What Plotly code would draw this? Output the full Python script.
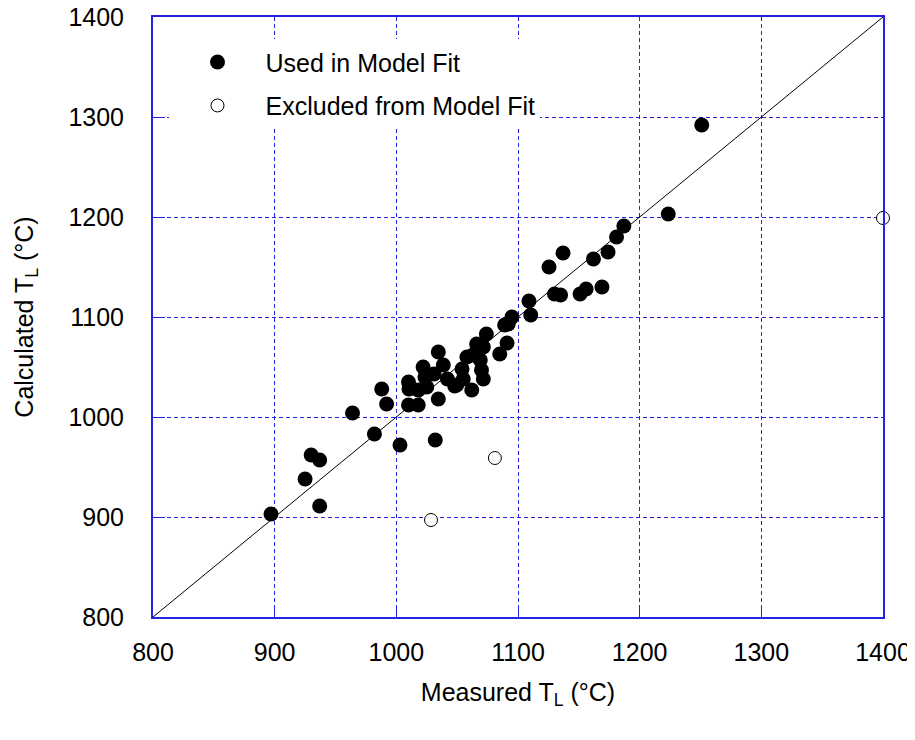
import plotly.graph_objects as go

# Used in Model Fit: measured (x) vs calculated (y), degrees C
used_measured = [897, 937, 925, 930, 937, 964, 982, 988, 992, 1003,
                 1034.5, 1022, 1038.6, 1010, 1010.4, 1023.5, 1025, 1018, 1031, 1042,
                 1049.6, 1034.5, 1010, 1018, 1032, 1109, 1110.5, 1095, 1092, 1089,
                 1074, 1066, 1071.5, 1091, 1085, 1058, 1063, 1069, 1054, 1070,
                 1071.5, 1055, 1048, 1062, 1187, 1181, 1174, 1162, 1137, 1125.5,
                 1130, 1135, 1151, 1156, 1169, 1223.5, 1251]
used_calculated = [903, 911, 938, 962, 957, 1004, 983, 1028, 1013, 972,
                   1065, 1050, 1052, 1035, 1028, 1040, 1030, 1027, 1043, 1038,
                   1032, 1018, 1012, 1012, 977, 1116, 1102, 1100, 1093, 1092,
                   1083, 1073, 1070, 1074, 1063, 1060, 1062, 1057, 1048, 1047,
                   1038, 1038, 1031, 1027, 1191, 1180, 1165, 1158, 1164, 1150,
                   1123, 1122, 1123, 1128, 1130, 1203, 1292]

# Excluded from Model Fit
excl_measured = [1028.5, 1081, 1400]
excl_calculated = [897, 959, 1199]

# 1:1 line
line_vals = [800, 1400]

tick_vals = [800, 900, 1000, 1100, 1200, 1300, 1400]
tick_text = ["800", "900", "1000", "1100", "1200", "1300", "1400"]

BLUE = "#2323e6"
FONT = "Liberation Sans, Arial, sans-serif"
FS = 25

fig = go.Figure()
fig.add_trace(go.Scatter(x=line_vals, y=line_vals, mode="lines",
                         line=dict(color="black", width=1), showlegend=False,
                         hoverinfo="skip"))
fig.add_trace(go.Scatter(x=used_measured, y=used_calculated, mode="markers",
                         name="Used in Model Fit", legendgroup="a",
                         marker=dict(color="black", size=15, line=dict(width=0))))
fig.add_trace(go.Scatter(x=excl_measured, y=excl_calculated, mode="markers",
                         name="Excluded from Model Fit", legendgroup="b",
                         cliponaxis=False,
                         marker=dict(color="white", size=13,
                                     line=dict(color="black", width=1))))

axis_common = dict(
    range=[800, 1400], tickvals=tick_vals, ticktext=tick_text,
    showgrid=True, gridcolor=BLUE, gridwidth=1, griddash="4px,3px",
    showline=True, linecolor=BLUE, linewidth=2, mirror=True,
    ticks="inside", ticklen=12, tickcolor=BLUE, tickwidth=1,
    zeroline=False, automargin=False, ticklabeloverflow="allow",
    tickfont=dict(family=FONT, size=FS, color="black"),
)

fig.update_xaxes(**axis_common, ticklabelstandoff=12,
                 title=dict(text="Measured T<sub>L</sub> (°C)",
                            font=dict(family=FONT, size=FS, color="black"),
                            standoff=18))
fig.update_yaxes(**axis_common, ticklabelstandoff=22,
                 title=dict(text="Calculated T<sub>L</sub> (°C)",
                            font=dict(family=FONT, size=FS, color="black"),
                            standoff=28))

fig.update_layout(
    width=907, height=732,
    margin=dict(l=145, r=32, t=9, b=123, autoexpand=False),
    plot_bgcolor="white", paper_bgcolor="white",
    font=dict(family=FONT, size=FS, color="black"),
    legend=dict(x=0.0226, y=0.963, xanchor="left", yanchor="top",
                bgcolor="white", borderwidth=0, itemwidth=86,
                tracegroupgap=8, font=dict(family=FONT, size=FS, color="black")),
)

fig.write_html("out.html")
